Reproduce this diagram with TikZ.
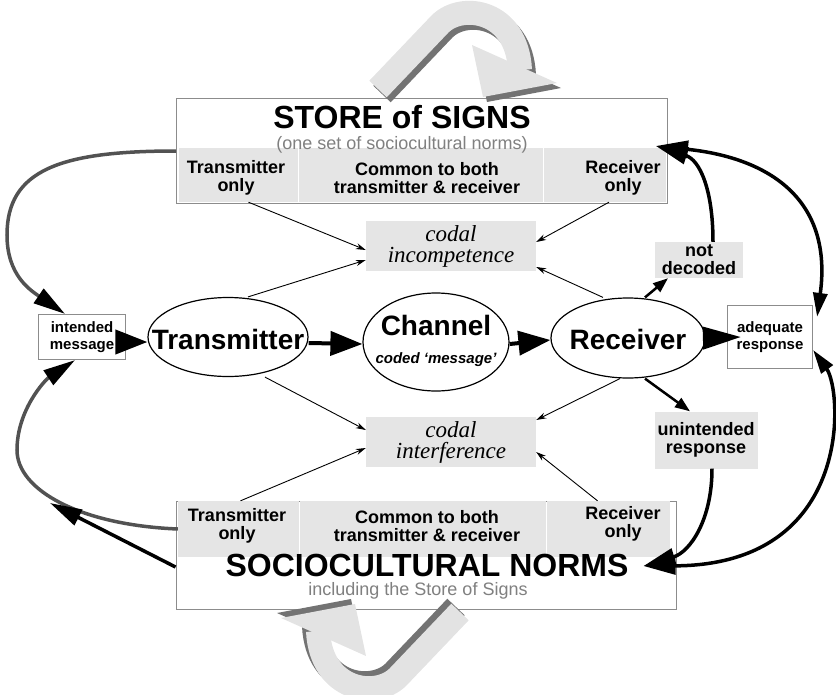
\documentclass[tikz,border=0pt]{standalone}
\usepackage{fontspec}
\setmainfont{Liberation Sans}
\newfontfamily\codalfont{Liberation Serif}
\usetikzlibrary{shapes.geometric,arrows.meta,positioning}

\newcommand{\signarrow}{%
\begin{scope}[shift={(4,5)}]
\draw[line width=24pt, black!55] (378,89) -- (440,24) .. controls (462,2) and (517,10) .. (520,70);
\fill[black!55] (472,45) -- (557,83) -- (483,97) -- cycle;
\end{scope}
\draw[line width=24pt, gray!22] (378,89) -- (440,24) .. controls (462,2) and (517,10) .. (520,70);
\fill[gray!22] (472,45) -- (557,83) -- (483,97) -- cycle;
}

\begin{document}
\begin{tikzpicture}[x=1pt, y=-1pt,
  frame/.style = {draw = black!45, line width = 1pt, fill = white, inner sep = 0pt},
  part/.style = {fill = gray!20, inner sep = 0pt},
  parttext/.style = {align = center, font = \fontsize{18}{18}\selectfont\bfseries},
  title/.style = {font = \fontsize{32}{34}\selectfont\bfseries},
  subtitle/.style = {text = black!50, font = \fontsize{18}{20}\selectfont},
  actor/.style = {ellipse, draw, line width = 1.2pt, fill = white, inner sep = 0pt},
  actortext/.style = {align = center, font = \fontsize{28}{30}\selectfont\bfseries},
  codal/.style = {fill = gray!20, minimum width = 170pt, minimum height = 50pt, align = center, font = {\codalfont\fontsize{23}{21}\selectfont\itshape}},
  outcome/.style = {fill = gray!20, inner sep = 2pt, align = center, font = \fontsize{18}{18}\selectfont\bfseries},
  msg/.style = {draw = black!45, line width = 1.2pt, fill = white, inner sep = 2pt, align = center, font = \fontsize{15}{17}\selectfont\bfseries},
  feed/.style = {line width = 0.9pt, -{Stealth[length = 10pt, width = 6pt]}},
  flow/.style = {line width = 4pt, -{Triangle[length = 32pt, width = 24pt]}},
  branch/.style = {line width = 2.5pt, -{Triangle[length = 15pt, width = 11pt]}},
  backline/.style = {line width = 3.5pt},
  bighead/.tip = {Triangle[length = 32pt, width = 17pt, color = black]},
  sidehead/.tip = {Triangle[length = 24pt, width = 14pt, color = black]}]
\useasboundingbox (0,0) rectangle (836,694);

\node[frame, minimum width = 491pt, minimum height = 105pt] (store) at (422,151) {};
\node[part, minimum width = 119pt, minimum height = 54pt] (storeT) at (238.5,175) {};
\node[part, minimum width = 244pt, minimum height = 54pt] (storeC) at (421,175) {};
\node[part, minimum width = 122pt, minimum height = 54pt] (storeR) at (605,175) {};
\node[parttext] (storeTtxt) at (236,178) {Transmitter\\only};
\node[parttext] (storeCtxt) at (427,178) {Common to both\\transmitter \& receiver};
\node[parttext] (storeRtxt) at (623,178) {Receiver\\only};
\node[title] (storeTitle) at (402,117) {STORE of SIGNS};
\node[subtitle] (storeSub) at (402,145) {(one set of sociocultural norms)};

\node[frame, minimum width = 500pt, minimum height = 108pt] (norms) at (426,555) {};
\node[part, minimum width = 121pt, minimum height = 56pt] (normsT) at (238.5,529) {};
\node[part, minimum width = 246pt, minimum height = 56pt] (normsC) at (423,529) {};
\node[part, minimum width = 123pt, minimum height = 56pt] (normsR) at (608.5,529) {};
\node[parttext] (normsTtxt) at (237,526) {Transmitter\\only};
\node[parttext] (normsCtxt) at (427,526) {Common to both\\transmitter \& receiver};
\node[parttext] (normsRtxt) at (623,524) {Receiver\\only};
\node[title] (normsTitle) at (427,565) {SOCIOCULTURAL NORMS};
\node[subtitle] (normsSub) at (418,591) {including the Store of Signs};

\node[codal] (incomp) at (451,246) {codal\\incompetence};
\node[codal] (interf) at (451,442) {codal\\interference};

\node[actor, minimum width = 160pt, minimum height = 79pt] (trans) at (228,337) {};
\node[actortext] (transtxt) at (228,339) {Transmitter};
\node[actor, minimum width = 146pt, minimum height = 98pt] (chan) at (436,342) {};
\node[actortext] (chantxt) at (436,341) {Channel\\[-2pt]{\fontsize{15}{17}\selectfont\itshape coded `message'}};
\node[actor, minimum width = 154pt, minimum height = 80pt] (recv) at (628,338) {};
\node[actortext] (recvtxt) at (628,339) {Receiver};

\node[msg, minimum width = 87pt, minimum height = 45pt] (intended) at (82,337) {intended\\message};
\node[msg, minimum width = 85pt, minimum height = 63pt] (adequate) at (770,337) {adequate\\response};
\node[outcome, minimum width = 88pt, minimum height = 36pt] (notdec) at (699,260) {not\\decoded};
\node[outcome, minimum width = 103pt, minimum height = 57pt] (unint) at (706,440) {unintended\\response};
\coordinate (joinL) at (50,503);

\draw[flow] ([xshift = -9pt, yshift = -5pt]intended.east) -- ([yshift = -5pt]trans.west);
\draw[flow] ([yshift = -6pt]trans.east) -- ([yshift = -2pt]chan.west);
\draw[flow] ([yshift = -2pt]chan.east) -- ([yshift = -2pt]recv.west);
\draw[line width = 4pt, -{Triangle[length = 38pt, width = 22pt]}] (recv.east) -- ([xshift = 14pt]adequate.west);
\draw[branch] ([xshift = 17pt]recv.north) -- ([xshift = -31pt]notdec.south);
\draw[branch] ([xshift = 17pt]recv.south) -- ([xshift = -16pt]unint.north);

\draw[feed] ([xshift = 10pt]storeT.south) -- ([yshift = -4pt]incomp.west);
\draw[feed] ([xshift = 20pt]trans.north) -- ([yshift = -14pt]incomp.west);
\draw[feed] ([xshift = 4pt]storeR.south) -- ([yshift = 4pt]incomp.east);
\draw[feed] ([xshift = -25pt]recv.north) -- ([yshift = -21pt]incomp.east);
\draw[feed] ([xshift = 37pt]trans.south) -- ([yshift = 12pt]interf.west);
\draw[feed] ([xshift = 2pt]normsT.north) -- ([yshift = -6pt]interf.west);
\draw[feed] ([xshift = -8pt]recv.south) -- ([yshift = 22pt]interf.east);
\draw[feed] ([xshift = -11pt]normsR.north) -- ([yshift = -10pt]interf.east);

\draw[backline, black!68, -{bighead}] (store.west) .. controls (60,151) and (7,170) .. (7,235)
  .. controls (7,275) and (30,290) .. ([xshift = -17pt]intended.north);
\draw[backline, black!68, -{bighead}] (normsT.west) .. controls (80,525) and (17,490) .. (17,450)
  .. controls (17,410) and (45,380) .. ([xshift = -7pt]intended.south);
\draw[backline, -{bighead}] ([yshift = -12pt]norms.west) -- (joinL);

\draw[backline, -{bighead}] ([xshift = 14pt]notdec.north) .. controls (713,190) and (700,160) .. ([xshift = -12pt, yshift = 5pt]store.east);
\draw[backline, {sidehead}-{bighead}] ([xshift = 4pt, yshift = -12pt]adequate.north east) .. controls (833,200) and (770,158) .. ([xshift = -12pt, yshift = 5pt]store.east);
\draw[backline, {sidehead}-{bighead}] ([yshift = -13pt]adequate.east) .. controls (842,390) and (855,565) .. ([xshift = -33pt, yshift = -11pt]norms.east);
\draw[backline, -{bighead}] ([xshift = 6pt]unint.south) .. controls (712,520) and (690,552) .. ([xshift = -33pt, yshift = -11pt]norms.east);

\signarrow
\begin{scope}[rotate around = {180:(419,350.5)}]
\signarrow
\end{scope}
\end{tikzpicture}
\end{document}
